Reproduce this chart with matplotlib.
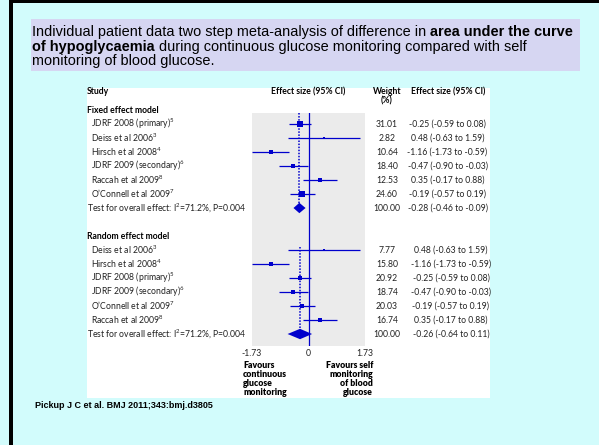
import matplotlib
matplotlib.use("Agg")
import matplotlib.pyplot as plt
import matplotlib.transforms as mtransforms
from matplotlib.patches import Rectangle, Polygon
import numpy as np

# ---- data ----
fixed_studies = ["JDRF 2008 (primary)", "Deiss et al 2006", "Hirsch et al 2008",
                 "JDRF 2009 (secondary)", "Raccah et al 2009", "O\u2019Connell et al 2009"]
fixed_refs = [5, 3, 4, 6, 8, 7]
fixed_est = [-0.25, 0.48, -1.16, -0.47, 0.35, -0.19]
fixed_lo = [-0.59, -0.63, -1.73, -0.90, -0.17, -0.57]
fixed_hi = [0.08, 1.59, -0.59, -0.03, 0.88, 0.19]
fixed_w = [31.01, 2.82, 10.64, 18.40, 12.53, 24.60]
fixed_pool = [-0.28, -0.46, -0.09]

random_studies = ["Deiss et al 2006", "Hirsch et al 2008", "JDRF 2008 (primary)",
                  "JDRF 2009 (secondary)", "O\u2019Connell et al 2009", "Raccah et al 2009"]
random_refs = [3, 4, 5, 6, 7, 8]
random_est = [0.48, -1.16, -0.25, -0.47, -0.19, 0.35]
random_lo = [-0.63, -1.73, -0.59, -0.90, -0.57, -0.17]
random_hi = [1.59, -0.59, 0.08, -0.03, 0.19, 0.88]
random_w = [7.77, 15.80, 20.92, 18.74, 20.03, 16.74]
random_pool = [-0.26, -0.64, 0.11]

overall_text = "Test for overall effect: I$^2$=71.2%, P=0.004"
xticks = [-1.73, 0, 1.73]
xtick_labels = ["-1.73", "0", "1.73"]

W, H = 599, 445
BLUE = "#0000CC"
FONT = "Lato"
FS = 6.2
TXT = "#222222"

plt.rcParams["mathtext.fontset"] = "custom"
plt.rcParams["mathtext.rm"] = FONT
plt.rcParams["mathtext.it"] = FONT + ":italic"
plt.rcParams["mathtext.bf"] = FONT + ":bold"
plt.rcParams["font.family"] = FONT

fig = plt.figure(figsize=(W / 100, H / 100), dpi=100)
fig.patch.set_facecolor("#D2FCFC")


def fx(x):
    return x / W


def fy(y):
    return 1 - y / H


def box(x0, y0, x1, y1, color):
    fig.add_artist(Rectangle((fx(x0), fy(y1)), (x1 - x0) / W, (y1 - y0) / H,
                             transform=fig.transFigure, facecolor=color,
                             edgecolor="none", zorder=-5))


# frame bits, title box, white panel
box(9, 0, W, 3, "black")
box(9, 0, 13, H, "black")
box(31, 19, 580, 71, "#D6D6F2")
box(87, 88, 490, 398, "white")

# title with mixed weight runs
renderer = fig.canvas.get_renderer()


def runs(x, y, parts, size=10.45):
    for s, wt in parts:
        t = fig.text(fx(x), fy(y), s, fontsize=size, fontweight=wt,
                     family="Liberation Sans", va="baseline", ha="left")
        bb = t.get_window_extent(renderer)
        x = bb.x1


runs(32, 36, [("Individual patient data two step meta-analysis of difference in ", "normal"),
              ("area under the curve", "bold")])
runs(32, 50.5, [("of hypoglycaemia", "bold"),
                (" during continuous glucose monitoring compared with self", "normal")])
runs(32, 65, [("monitoring of blood glucose.", "normal")])

fig.text(fx(35), fy(406), "Pickup J C et al. BMJ 2011;343:bmj.d3805", fontsize=6.5,
         fontweight="bold", family="Liberation Sans", va="center", ha="left")

# ---- forest axes ----
ax = fig.add_axes([fx(252), fy(346), 113 / W, 233 / H])
ax.set_facecolor("#EBEBEB")
for sp in ax.spines.values():
    sp.set_visible(False)
ax.set_xlim(-1.73, 1.73)
ax.set_ylim(15.857, -0.786)
ax.set_yticks([])
ax.set_xticks(xticks)
ax.set_xticklabels(xtick_labels, fontsize=FS, color=TXT)
ax.tick_params(axis="x", length=0, pad=2.0)

ax.axvline(0, color=BLUE, lw=0.9, zorder=2)

trans = mtransforms.blended_transform_factory(fig.transFigure, ax.transData)


def section(start, studies, refs, est, lo, hi, w, pool, msc, es_x, top):
    rows = np.arange(len(studies)) + start
    prow = start + len(studies)
    ax.plot([pool[0], pool[0]], [top, prow], color=BLUE, lw=1.1,
            linestyle=(0, (1, 1)), zorder=2)
    ax.hlines(rows, lo, hi, color=BLUE, lw=0.9, zorder=3)
    for r, e, wt in zip(rows, est, w):
        ax.plot(e, r, "s", color=BLUE, ms=max(1.5, msc * np.sqrt(wt)), mew=0, zorder=4)
    dh = 0.37
    ax.add_patch(Polygon([(pool[1], prow), (pool[0], prow - dh), (pool[2], prow),
                          (pool[0], prow + dh)], closed=True, facecolor=BLUE,
                         edgecolor="none", zorder=4))
    for r, s, ref, wt, e, l, h in zip(rows, studies, refs, w, est, lo, hi):
        fig.text(fx(91), r, s + "$^{%d}$" % ref, transform=trans, fontsize=FS,
                 va="center", ha="left", color=TXT)
        fig.text(fx(387), r, "%.2f" % wt, transform=trans, fontsize=FS,
                 va="center", ha="center", color=TXT)
        fig.text(fx(es_x), r, "%.2f (%.2f to %.2f)" % (e, l, h), transform=trans,
                 fontsize=FS, va="center", ha="center", color=TXT)
    fig.text(fx(87), prow, overall_text, transform=trans, fontsize=FS,
             va="center", ha="left", color=TXT)
    fig.text(fx(387), prow, "100.00", transform=trans, fontsize=FS,
             va="center", ha="center", color=TXT)
    fig.text(fx(es_x), prow, "%.2f (%.2f to %.2f)" % tuple(pool), transform=trans,
             fontsize=FS, va="center", ha="center", color=TXT)


section(0, fixed_studies, fixed_refs, fixed_est, fixed_lo, fixed_hi, fixed_w,
        fixed_pool, 0.8, 447.5, -0.786)
section(9, random_studies, random_refs, random_est, random_lo, random_hi, random_w,
        random_pool, 0.6, 451, 8.8)

# headers
bold = dict(fontsize=FS, fontweight="bold", transform=trans, color="black")
fig.text(fx(87), -2.29, "Study", va="center", ha="left", **bold)
fig.text(fx(308), -2.29, "Effect size (95% CI)", va="center", ha="center", **bold)
fig.text(fx(387), -2.29, "Weight", va="center", ha="center", **bold)
fig.text(fx(387), -1.64, "(%)", va="center", ha="center", **bold)
fig.text(fx(448), -2.29, "Effect size (95% CI)", va="center", ha="center", **bold)
fig.text(fx(87), -1.0, "Fixed effect model", va="center", ha="left", **bold)
fig.text(fx(87), 8.0, "Random effect model", va="center", ha="left", **bold)
heavy = dict(bold, fontweight="heavy")
fig.text(fx(243), 16.95, "Favours\ncontinuous\nglucose\nmonitoring", va="top",
         ha="left", linespacing=0.97, **heavy)
fig.text(fx(373), 16.95, "Favours self\nmonitoring\nof blood\nglucose", va="top",
         ha="right", linespacing=0.97, multialignment="right", **heavy)

fig.savefig("out.png", dpi=100, facecolor=fig.get_facecolor())
